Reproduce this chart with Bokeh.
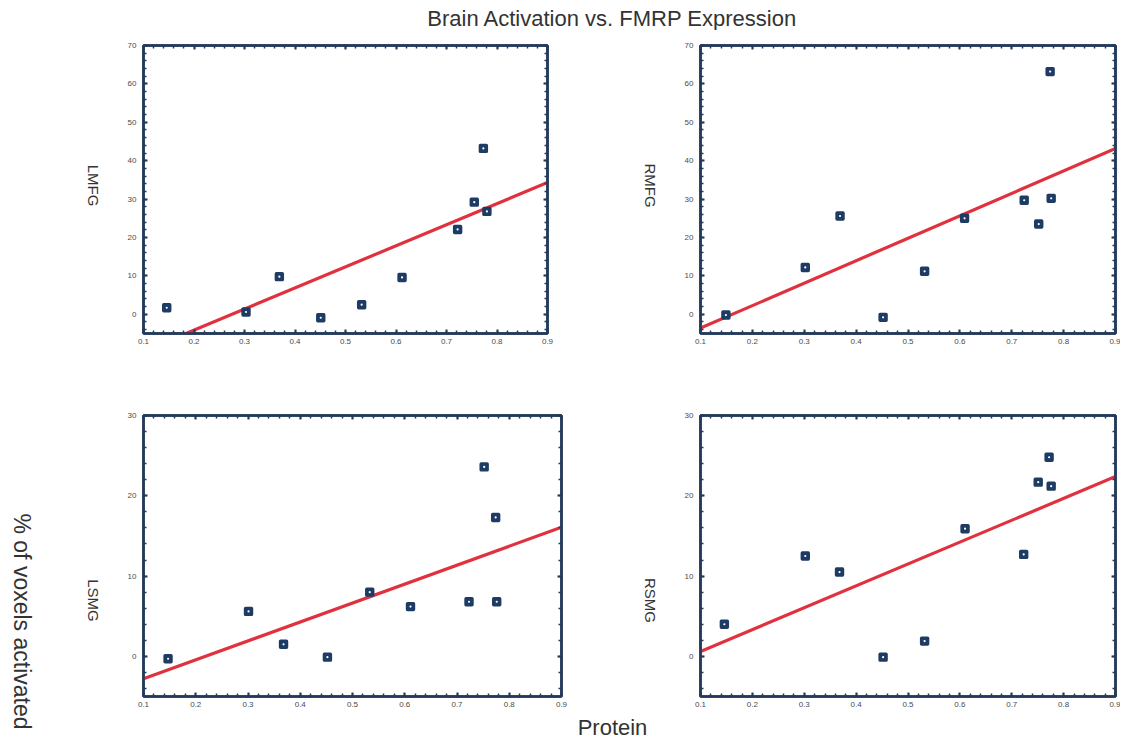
import math
from bokeh.plotting import figure
from bokeh.layouts import row, column
from bokeh.models import FixedTicker, LinearAxis, Range1d, CustomJSTickFormatter
from bokeh.core.properties import value
from bokeh.embed import file_html
from bokeh.resources import INLINE

# ---------------- data ----------------
title_text = "Brain Activation vs. FMRP Expression"
x_title = "Protein"
y_title = "% of voxels activated"
regions = ["LMFG", "RMFG", "LSMG", "RSMG"]

lmfg_x = [0.146, 0.303, 0.369, 0.451, 0.532, 0.612, 0.722, 0.755, 0.773, 0.780]
lmfg_y = [1.7, 0.6, 9.8, -0.9, 2.5, 9.6, 22.1, 29.2, 43.2, 26.8]
rmfg_x = [0.149, 0.302, 0.369, 0.452, 0.532, 0.609, 0.724, 0.752, 0.774, 0.776]
rmfg_y = [-0.2, 12.2, 25.6, -0.8, 11.2, 25.0, 29.7, 23.5, 63.2, 30.2]
lsmg_x = [0.147, 0.301, 0.368, 0.452, 0.533, 0.611, 0.723, 0.752, 0.774, 0.776]
lsmg_y = [-0.3, 5.6, 1.5, -0.1, 8.0, 6.2, 6.8, 23.6, 17.3, 6.8]
rsmg_x = [0.146, 0.302, 0.368, 0.452, 0.532, 0.610, 0.723, 0.751, 0.772, 0.776]
rsmg_y = [4.0, 12.5, 10.5, -0.1, 1.9, 15.9, 12.7, 21.7, 24.8, 21.2]

# fitted regression lines (slope, intercept)
fit_slope = [54.9, 58.5, 23.6, 27.25]
fit_intercept = [-15.1, -9.45, -5.16, -2.125]

x_ticks = [0.1, 0.2, 0.3, 0.4, 0.5, 0.6, 0.7, 0.8, 0.9]
y_ticks_top = [0, 10, 20, 30, 40, 50, 60, 70]
y_ticks_bottom = [0, 10, 20, 30]

# ---------------- style ----------------
NAVY = "#243a5a"
MARK = "#1d3b63"
RED = "#e0313f"
FONT = "Liberation Sans"
TXT = "#333333"


def minor(lo, hi, step):
    n = int(round((hi - lo) / step))
    return [round(lo + i * step, 4) for i in range(n + 1)]


def style_axis(ax, ticks, minors, labels=True):
    ax.ticker = FixedTicker(ticks=ticks, minor_ticks=minors)
    ax.axis_line_color = NAVY
    ax.axis_line_width = 2.5
    ax.major_tick_line_color = NAVY
    ax.minor_tick_line_color = NAVY
    ax.major_tick_line_width = 2
    ax.minor_tick_line_width = 1.5
    ax.major_tick_in = 4
    ax.major_tick_out = 0
    ax.minor_tick_in = 3
    ax.minor_tick_out = 0
    ax.major_label_text_font = FONT
    ax.major_label_text_font_size = "8px"
    ax.major_label_text_color = "#4a4a4a"
    if not labels:
        ax.formatter = CustomJSTickFormatter(code="return ''")
        ax.major_label_standoff = 0


def panel(xs, ys, k, yr, yticks, width, height, bl, br, bt, bb):
    p = figure(width=width, height=height, output_backend="svg", toolbar_location=None,
               x_range=Range1d(0.1, 0.9), y_range=Range1d(*yr),
               x_axis_location=None, y_axis_location=None,
               min_border_left=bl, min_border_right=br, min_border_top=bt, min_border_bottom=bb)
    p.xgrid.visible = False
    p.ygrid.visible = False
    p.outline_line_color = NAVY
    p.outline_line_width = 2.5
    xm = minor(0.1, 0.9, 0.02)
    ym = minor(yr[0] + 1, yr[1], 2)
    ax_b = LinearAxis(major_label_standoff=5)
    style_axis(ax_b, x_ticks, xm)
    ax_l = LinearAxis(major_label_standoff=7)
    style_axis(ax_l, yticks, ym)
    ax_t = LinearAxis()
    style_axis(ax_t, x_ticks, xm, labels=False)
    ax_r = LinearAxis()
    style_axis(ax_r, yticks, ym, labels=False)
    p.add_layout(ax_b, "below")
    p.add_layout(ax_l, "left")
    p.add_layout(ax_t, "above")
    p.add_layout(ax_r, "right")
    lx = [0.1, 0.9]
    ly = [fit_slope[k] * v + fit_intercept[k] for v in lx]
    p.line(lx, ly, line_color=RED, line_width=3.2)
    p.scatter(xs, ys, marker="square", size=6, fill_color=MARK, line_color=MARK,
              line_width=3.4, line_join="round")
    p.scatter(xs, ys, marker="circle", size=2.2, fill_color="white", line_color=None)
    return p


def strip(width, height):
    s = figure(width=width, height=height, output_backend="svg", toolbar_location=None,
               x_range=Range1d(0, width), y_range=Range1d(0, height),
               x_axis_location=None, y_axis_location=None, min_border=0)
    s.xgrid.visible = False
    s.ygrid.visible = False
    s.outline_line_color = None
    return s


# left column (frames: P1 404 wide, P3 418 wide)
p1 = panel(lmfg_x, lmfg_y, 0, (-5, 70), y_ticks_top, 452, 365, 38, 10, 15, 62)
p3 = panel(lsmg_x, lsmg_y, 2, (-5, 30), y_ticks_bottom, 466, 316, 38, 10, 20, 15)
# right column
p2 = panel(rmfg_x, rmfg_y, 1, (-5, 70), y_ticks_top, 455, 365, 35, 5, 15, 62)
p4 = panel(rsmg_x, rsmg_y, 3, (-5, 30), y_ticks_bottom, 455, 316, 35, 5, 20, 15)

# left strip: overall y label + left region names
left = strip(105, 743)
left.text(x=[21], y=[122], text=[y_title], angle=-math.pi / 2, text_align="center",
          text_baseline="middle", text_font=value(FONT), text_font_size="23px", text_color=TXT)
left.text(x=[93, 93], y=[558, 143], text=[regions[0], regions[2]], angle=-math.pi / 2,
          text_align="center", text_baseline="middle", text_font=value(FONT),
          text_font_size="15px", text_color=TXT)

mid = strip(94, 681)
mid.text(x=[79, 79], y=[526, 111], text=[regions[1], regions[3]], angle=-math.pi / 2,
         text_align="center", text_baseline="middle", text_font=value(FONT),
         text_font_size="15px", text_color=TXT)

top = strip(1015, 30)
top.text(x=[507], y=[12], text=[title_text], text_align="center", text_baseline="middle",
         text_font=value(FONT), text_font_size="22px", text_color=TXT)

bottom = strip(1015, 32)
bottom.text(x=[507], y=[16], text=[x_title], text_align="center", text_baseline="middle",
            text_font=value(FONT), text_font_size="22px", text_color=TXT)

grid = row(column(p1, p3), mid, column(p2, p4))
layout = row(left, column(top, grid, bottom))

open("out.html", "w").write(file_html(layout, INLINE))
